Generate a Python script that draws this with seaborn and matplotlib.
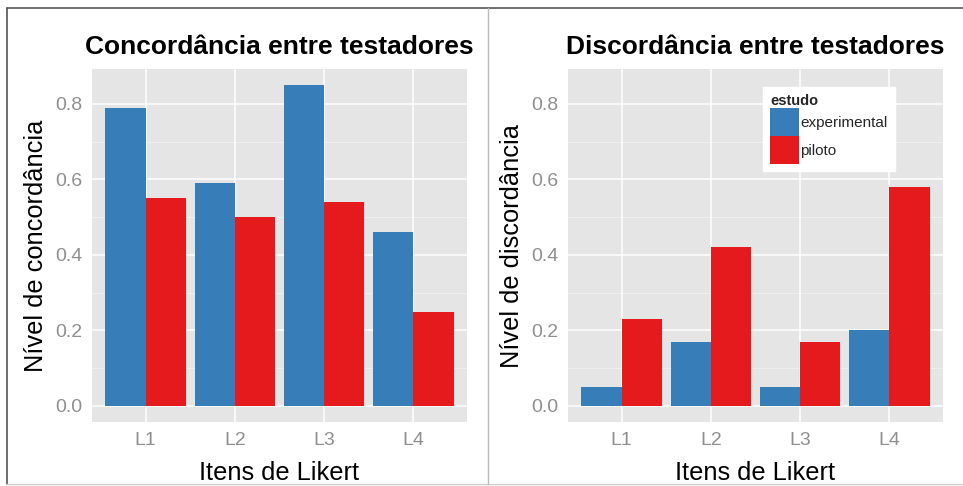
import matplotlib
matplotlib.use("Agg")
import matplotlib.pyplot as plt
import seaborn as sns
import pandas as pd
from matplotlib.lines import Line2D

categories = ["L1", "L2", "L3", "L4"]
studies = ["experimental", "piloto"]
concord_experimental = [0.79, 0.59, 0.85, 0.46]
concord_piloto = [0.55, 0.50, 0.54, 0.25]
discord_experimental = [0.05, 0.17, 0.05, 0.20]
discord_piloto = [0.23, 0.42, 0.17, 0.58]
yticks = [0.0, 0.2, 0.4, 0.6, 0.8]
yminor = [0.1, 0.3, 0.5, 0.7]

def make_df(exp, pil):
    rows = []
    for c, v in zip(categories, exp):
        rows.append({"item": c, "estudo": "experimental", "valor": v})
    for c, v in zip(categories, pil):
        rows.append({"item": c, "estudo": "piloto", "valor": v})
    return pd.DataFrame(rows)

df_con = make_df(concord_experimental, concord_piloto)
df_dis = make_df(discord_experimental, discord_piloto)

sns.set_theme(style="white")
plt.rcParams["font.family"] = ["Liberation Sans", "DejaVu Sans"]

palette = {"experimental": "#377EB8", "piloto": "#E41A1C"}

fig = plt.figure(figsize=(9.63, 4.86), dpi=100)
W, H = 963, 486
def ax_rect(x0, y0, x1, y1):
    return [x0 / W, 1 - y1 / H, (x1 - x0) / W, (y1 - y0) / H]

ax1 = fig.add_axes(ax_rect(92, 69, 467, 422))
ax2 = fig.add_axes(ax_rect(568, 69, 943, 422))

for ax, df, title, ylabel in [
    (ax1, df_con, "Concordância entre testadores", "Nível de concordância"),
    (ax2, df_dis, "Discordância entre testadores", "Nível de discordância"),
]:
    ax.set_facecolor("#E5E5E5")
    for y in yminor:
        ax.axhline(y, color="#F2F2F2", lw=0.6, zorder=0)
    for y in yticks:
        ax.axhline(y, color="white", lw=1.1, zorder=0)
    for i in range(len(categories)):
        ax.axvline(i, color="white", lw=1.1, zorder=0)
    sns.barplot(data=df, x="item", y="valor", hue="estudo", order=categories,
                hue_order=studies, palette=palette, width=0.9, gap=0,
                saturation=1, errorbar=None, ax=ax, zorder=2, linewidth=0)
    ax.set_xlim(-0.6, 3.6)
    ax.set_ylim(-0.0425, 0.8925)
    ax.set_yticks(yticks)
    ax.set_yticklabels([f"{t:.1f}" for t in yticks])
    for s in ax.spines.values():
        s.set_visible(False)
    ax.tick_params(axis="both", which="major", length=4, width=0.8,
                   color="#7F7F7F", labelcolor="#8F8F8F", labelsize=14,
                   direction="out", pad=3)
    ax.set_title(title, fontsize=19, fontweight="bold", pad=11, color="black")
    ax.set_ylabel(ylabel, fontsize=18.3, labelpad=5, color="black")
    ax.set_xlabel("Itens de Likert", fontsize=18.3, labelpad=9, color="black")
    ax.grid(False)
    leg = ax.get_legend()
    if leg is not None:
        leg.remove()

handles = [plt.Rectangle((0, 0), 1, 1, facecolor=palette[s], edgecolor="none") for s in studies]
leg = fig.legend(handles, studies, title="estudo", loc="upper left",
                 bbox_to_anchor=(763 / W, 1 - 87 / H), bbox_transform=fig.transFigure,
                 fontsize=11, title_fontproperties={"weight": "bold", "size": 10.5},
                 frameon=True, fancybox=False, edgecolor="white", facecolor="white",
                 framealpha=1, handlelength=1.9, handleheight=2.44, labelspacing=0,
                 handletextpad=0.1, borderpad=0.45, borderaxespad=0)
leg._legend_box.align = "left"

# outer frame and separator
fig.add_artist(Line2D([7 / W, 7 / W], [1 - 484 / H, 1 - 8 / H], color="#555555", lw=1.2, transform=fig.transFigure))
fig.add_artist(Line2D([7 / W, 1], [1 - 8 / H, 1 - 8 / H], color="#555555", lw=1.2, transform=fig.transFigure))
fig.add_artist(Line2D([7 / W, 1], [1 - 484 / H, 1 - 484 / H], color="#CCCCCC", lw=1.0, transform=fig.transFigure))
fig.add_artist(Line2D([488 / W, 488 / W], [1 - 484 / H, 1 - 8 / H], color="#BBBBBB", lw=1.0, transform=fig.transFigure))

fig.savefig("out.png", dpi=100, facecolor="white")
